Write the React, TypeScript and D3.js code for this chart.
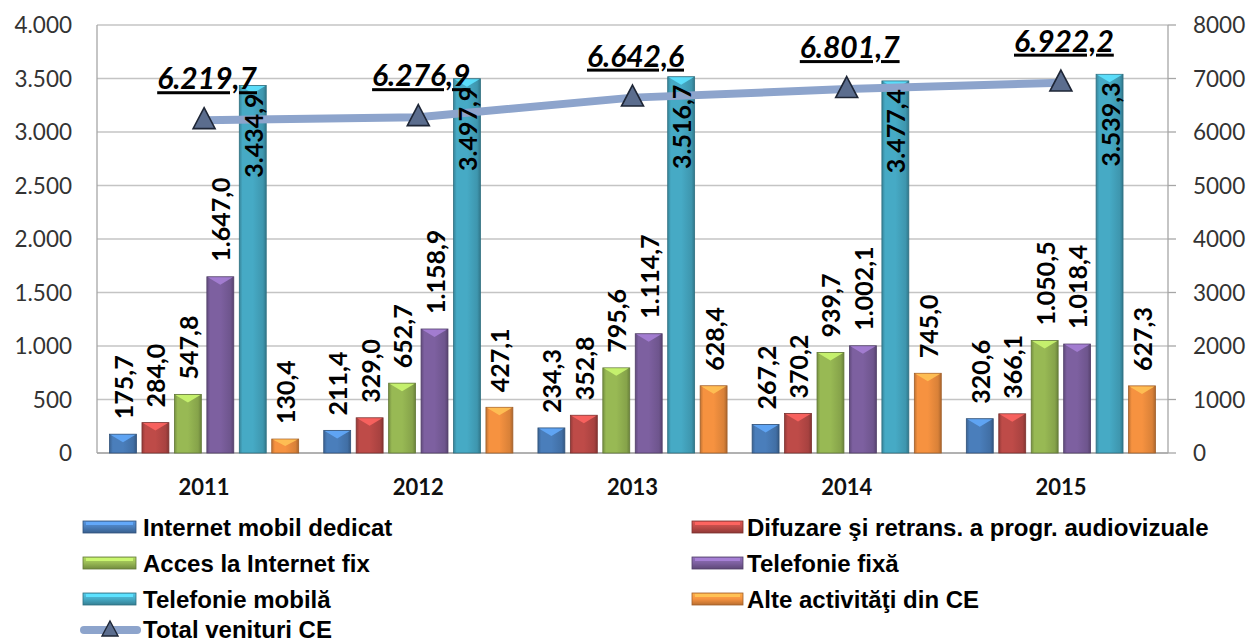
import React from "react";
import * as d3 from "d3";

const years = ["2011", "2012", "2013", "2014", "2015"];
const seriesNames = [
  "Internet mobil dedicat",
  "Difuzare şi retrans. a progr. audiovizuale",
  "Acces la Internet fix",
  "Telefonie fixă",
  "Telefonie mobilă",
  "Alte activităţi din CE",
];
const internetMobil = [175.7, 211.4, 234.3, 267.2, 320.6];
const difuzare = [284.0, 329.0, 352.8, 370.2, 366.1];
const accesInternet = [547.8, 652.7, 795.6, 939.7, 1050.5];
const telefonieFixa = [1647.0, 1158.9, 1114.7, 1002.1, 1018.4];
const telefonieMobila = [3434.9, 3497.9, 3516.7, 3477.4, 3539.3];
const alteActivitati = [130.4, 427.1, 628.4, 745.0, 627.3];
const totalVenituri = [6219.7, 6276.9, 6642.6, 6801.7, 6922.2];
const totalName = "Total venituri CE";
const leftTicks = [0, 500, 1000, 1500, 2000, 2500, 3000, 3500, 4000];
const rightTicks = [0, 1000, 2000, 3000, 4000, 5000, 6000, 7000, 8000];

const seriesValues = [internetMobil, difuzare, accesInternet, telefonieFixa, telefonieMobila, alteActivitati];
const colors = ["#4A7EBB", "#BE4B48", "#98B954", "#7D60A0", "#46AAC5", "#F69240"];

const W = 1251, H = 643;
const L = 97, R = 1168, T = 25, B = 453;

const loc = d3.formatLocale({ decimal: ",", thousands: ".", grouping: [3], currency: ["", ""] });
const fmtVal = loc.format(",.1f");
const fmtLeft = loc.format(",d");
const fmtRight = d3.format("d");

export default function App() {
  const x0 = d3.scaleBand<string>().domain(years).range([L, R]).paddingInner(0.117).paddingOuter(0.0585);
  const x1 = d3.scaleBand<number>().domain(d3.range(6)).range([0, x0.bandwidth()]).paddingInner(0.17);
  const yL = d3.scaleLinear().domain([0, 4000]).range([B, T]);
  const yR = d3.scaleLinear().domain([0, 8000]).range([B, T]);
  const bw = x1.bandwidth();

  const linePts: [number, number][] = years.map((yr, i) => [x0(yr)! + x0.bandwidth() / 2, yR(totalVenituri[i])]);
  const lineGen = d3.line();

  const tri = (cx: number, cy: number, w = 22, h = 21) =>
    `M${cx},${cy - h * 0.6}L${cx + w / 2},${cy + h * 0.4}L${cx - w / 2},${cy + h * 0.4}Z`;

  const darker = (c: string, k: number) => d3.color(c)!.darker(k).formatHex();
  const brighter = (c: string, k: number) => d3.color(c)!.brighter(k).formatHex();

  const legendLeft = [0, 2, 4];
  const legendRight = [1, 3, 5];
  const rowY = [527, 563, 599];

  const bar = (xx: number, top: number, w: number, h: number, si: number, key: string) => {
    const c = colors[si];
    const bev = Math.min(8, h / 2);
    return (
      <g key={key}>
        <rect x={xx} y={top} width={w} height={h} fill={`url(#g${si})`} stroke={darker(c, 1.2)} strokeWidth={0.8} />
        {h > 2 && (
          <path d={`M${xx + 1},${top + 0.5}L${xx + w - 1},${top + 0.5}L${xx + w / 2},${top + bev}Z`} fill={brighter(c, 0.8)} opacity={0.9} />
        )}
      </g>
    );
  };

  const swatch = (xx: number, cy: number, w: number, si: number) => {
    const c = colors[si];
    return (
      <g>
        <rect x={xx} y={cy - 6} width={w} height={12} fill={`url(#v${si})`} stroke={darker(c, 1.2)} strokeWidth={0.8} />
        <rect x={xx + 3} y={cy - 5} width={w - 6} height={3} fill={brighter(c, 0.8)} />
      </g>
    );
  };

  return (
    <svg width={W} height={H} style={{ position: "absolute", left: 0, top: 0, background: "#fff" }}>
      <defs>
        {colors.map((c, i) => (
          <linearGradient key={i} id={`g${i}`} x1="0" x2="1" y1="0" y2="0">
            <stop offset="0" stopColor={darker(c, 0.7)} />
            <stop offset="0.12" stopColor={c} />
            <stop offset="0.5" stopColor={c} />
            <stop offset="0.88" stopColor={darker(c, 0.35)} />
            <stop offset="1" stopColor={darker(c, 1.0)} />
          </linearGradient>
        ))}
        {colors.map((c, i) => (
          <linearGradient key={`v${i}`} id={`v${i}`} x1="0" x2="0" y1="0" y2="1">
            <stop offset="0" stopColor={brighter(c, 0.5)} />
            <stop offset="0.5" stopColor={c} />
            <stop offset="1" stopColor={darker(c, 0.8)} />
          </linearGradient>
        ))}
      </defs>
      {/* gridlines */}
      {leftTicks.map((t) => (
        <line key={t} x1={L} x2={R} y1={yL(t)} y2={yL(t)} stroke="#C4C4C4" strokeWidth={1.3} />
      ))}
      <line x1={L} x2={L} y1={T} y2={B} stroke="#A6A6A6" strokeWidth={1.3} />
      <line x1={R} x2={R} y1={T} y2={B} stroke="#A6A6A6" strokeWidth={1.3} />
      <line x1={L} x2={R} y1={B} y2={B} stroke="#A6A6A6" strokeWidth={1.5} />
      {rightTicks.map((t) => (
        <line key={t} x1={R} x2={R + 8} y1={yR(t)} y2={yR(t)} stroke="#A6A6A6" strokeWidth={1.3} />
      ))}
      {/* axis labels */}
      {leftTicks.map((t) => (
        <text key={t} x={72} y={yL(t)} dy="0.36em" textAnchor="end" fontFamily="Lato" fontSize={22.5} fill="#333">
          {fmtLeft(t)}
        </text>
      ))}
      {rightTicks.map((t) => (
        <text key={t} x={1193} y={yR(t)} dy="0.36em" textAnchor="start" fontFamily="Lato" fontSize={22.5} fill="#333">
          {fmtRight(t)}
        </text>
      ))}
      {years.map((yr) => (
        <text key={yr} x={x0(yr)! + x0.bandwidth() / 2} y={495} textAnchor="middle" fontFamily="Lato" fontWeight="bold" fontSize={22} fill="#111">
          {yr}
        </text>
      ))}
      {/* bars */}
      {years.map((yr, i) =>
        seriesValues.map((vals, si) => {
          const xx = x0(yr)! + x1(si)!;
          const top = yL(vals[i]);
          return bar(xx, top, bw, B - top, si, `${yr}-${si}`);
        })
      )}
      {/* line */}
      <path d={lineGen(linePts) || ""} fill="none" stroke="#8DA4CC" strokeWidth={8} />
      {linePts.map(([px, py], i) => (
        <path key={i} d={tri(px, py)} fill="#5B6D8E" stroke="#1E2636" strokeWidth={1.6} strokeLinejoin="miter" />
      ))}
      {/* bar labels */}
      {years.map((yr, i) =>
        seriesValues.map((vals, si) => {
          const cx = x0(yr)! + x1(si)! + bw / 2;
          const top = yL(vals[i]);
          const inside = si === 4;
          const yy = inside ? top + 8 : top - 15;
          return (
            <text
              key={`${yr}-${si}`}
              transform={`translate(${cx + 1},${yy}) rotate(-90)`}
              dy="0.36em"
              textAnchor={inside ? "end" : "start"}
              fontFamily="Lato"
              fontWeight="bold"
              fontSize={25}
              fill="#000"
            >
              {fmtVal(vals[i])}
            </text>
          );
        })
      )}
      {/* line labels */}
      {linePts.map(([px, py], i) => (
        <text key={i} x={px + 3} y={py - 31} textAnchor="middle" fontFamily="Lato" fontWeight="bold" fontStyle="italic" fontSize={30} fill="#000" textDecoration="underline">
          {fmtVal(totalVenituri[i])}
        </text>
      ))}
      {/* legend */}
      {legendLeft.map((si, r) => (
        <g key={si}>
          {swatch(83, rowY[r], 53, si)}
          <text x={143} y={rowY[r]} dy="0.36em" fontFamily="Liberation Sans" fontWeight="bold" fontSize={24} fill="#000">
            {seriesNames[si]}
          </text>
        </g>
      ))}
      {legendRight.map((si, r) => (
        <g key={si}>
          {swatch(692, rowY[r], 51, si)}
          <text x={747} y={rowY[r]} dy="0.36em" fontFamily="Liberation Sans" fontWeight="bold" fontSize={24} fill="#000">
            {seriesNames[si]}
          </text>
        </g>
      ))}
      <g>
        <line x1={84} x2={137} y1={630} y2={630} stroke="#8DA4CC" strokeWidth={8} strokeLinecap="round" />
        <path d={tri(110, 630, 16, 15)} fill="#5B6D8E" stroke="#1E2636" strokeWidth={1.4} />
        <text x={143} y={629} dy="0.36em" fontFamily="Liberation Sans" fontWeight="bold" fontSize={24} fill="#000">
          {totalName}
        </text>
      </g>
    </svg>
  );
}
